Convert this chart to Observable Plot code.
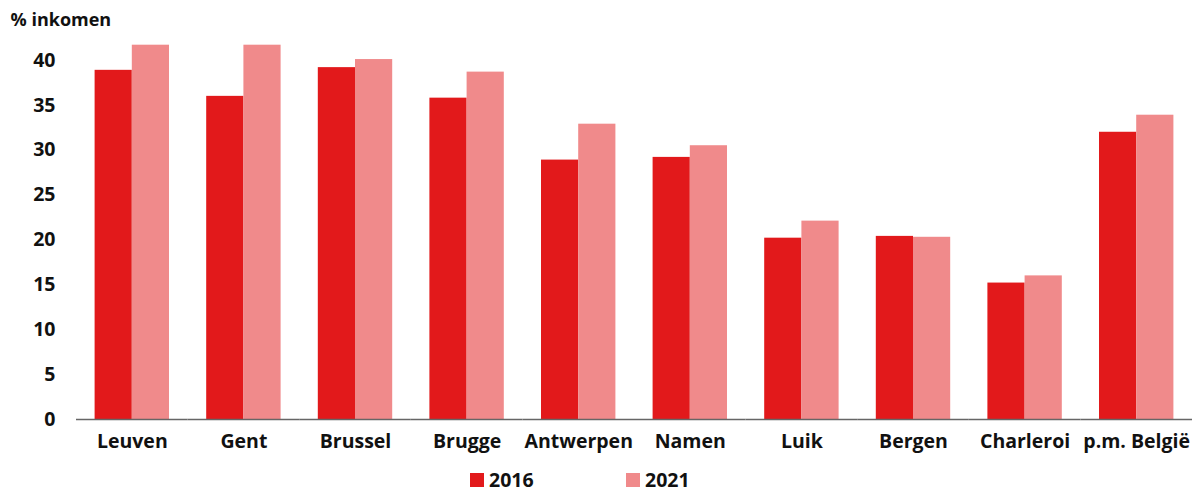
<!DOCTYPE html>
<html>
<head>
<meta charset="utf-8">
<script src="https://cdn.jsdelivr.net/npm/d3@7"></script>
<script src="https://cdn.jsdelivr.net/npm/@observablehq/plot@0.6"></script>
<style>
  html, body { margin: 0; padding: 0; background: #fff; }
  body { width: 1200px; height: 493px; overflow: hidden; font-family: "Open Sans", sans-serif; }
  #legend { position: relative; height: 35px; font-weight: 700; font-size: 19.5px; color: #111; }
  .item { position: absolute; top: 10px; display: flex; align-items: center; line-height: 24px; }
  .sw { width: 14px; height: 14px; margin-right: 5px; }
</style>
</head>
<body>
<div id="chart"></div>
<div id="legend"></div>
<script>
const cities = ["Leuven", "Gent", "Brussel", "Brugge", "Antwerpen", "Namen", "Luik", "Bergen", "Charleroi", "p.m. België"];
const years = ["2016", "2021"];
const values2016 = [38.9, 36.0, 39.2, 35.8, 28.9, 29.2, 20.2, 20.4, 15.2, 32.0];
const values2021 = [41.7, 41.7, 40.1, 38.7, 32.9, 30.5, 22.1, 20.3, 16.0, 33.9];
const yTicks = [0, 5, 10, 15, 20, 25, 30, 35, 40];
const colors = ["#e2191b", "#f08a8b"];
const yLabel = "% inkomen";

const data = [];
cities.forEach((c, i) => {
  data.push({city: c, year: years[0], value: values2016[i]});
  data.push({city: c, year: years[1], value: values2021[i]});
});

const chart = Plot.plot({
  width: 1200,
  height: 458,
  marginLeft: 76,
  marginRight: 8,
  marginTop: 42,
  marginBottom: 39,
  style: {fontFamily: "Open Sans", fontWeight: 700, fontSize: "19.5px", color: "#111"},
  fx: {domain: cities, padding: 0, round: false, label: null, axis: "bottom", tickSize: 0, tickPadding: 15},
  x: {domain: years, paddingInner: 0, paddingOuter: 0.5, round: false, axis: null},
  y: {domain: [0, 42], ticks: yTicks, tickSize: 0, tickPadding: 21, label: null},
  color: {domain: years, range: colors},
  marks: [
    Plot.barY(data, {fx: "city", x: "year", y: "value", fill: "year"}),
    Plot.ruleY([0], {stroke: "#666", strokeWidth: 1.5}),
    Plot.text([yLabel], {frameAnchor: "top-left", dx: -66, dy: -29, text: d => d, textAnchor: "start", fontSize: 18, fontWeight: 700, fill: "#111", facetAnchor: "left"})
  ]
});
document.getElementById("chart").appendChild(chart);

const legend = document.getElementById("legend");
const lx = [470, 626];
years.forEach((y, i) => {
  const it = document.createElement("div");
  it.className = "item";
  it.style.left = lx[i] + "px";
  it.innerHTML = `<span class="sw" style="background:${colors[i]}"></span><span>${y}</span>`;
  legend.appendChild(it);
});
</script>
</body>
</html>
